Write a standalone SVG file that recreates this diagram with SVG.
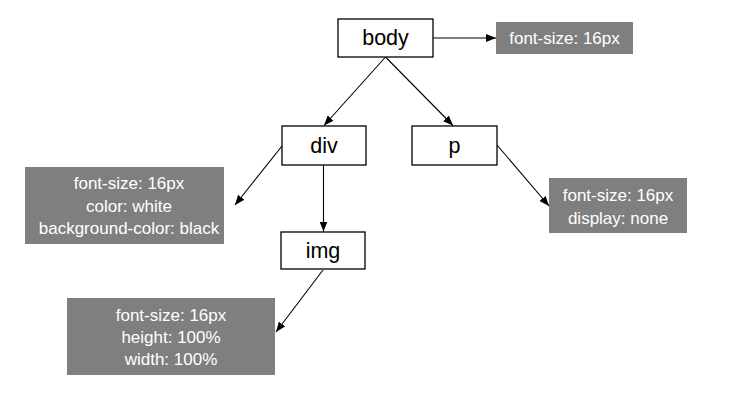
<svg xmlns="http://www.w3.org/2000/svg" width="735" height="401" viewBox="0 0 735 401">
<defs>
<style>
.node rect{fill:#fff;stroke:#000;stroke-width:1.3}
.node text{font-family:"Liberation Sans",Arial,sans-serif;font-size:21.5px;fill:#000;text-anchor:middle}
.note rect{fill:#7f7f7f;stroke:none}
.note text{font-family:"Liberation Sans",Arial,sans-serif;font-size:17px;fill:#fff;text-anchor:middle}
.conn line{stroke:#000;stroke-width:1.1;marker-end:url(#ah)}
</style>
<marker id="ah" markerUnits="userSpaceOnUse" markerWidth="10" markerHeight="8" refX="10" refY="4" orient="auto">
<path d="M0,0 L10,4 L0,8 z" fill="#000"/>
</marker>
</defs>
<rect width="735" height="401" fill="#fff"/>
<g id="connectors" class="conn">
<line x1="433" y1="38" x2="496" y2="38"/>
<line x1="385.5" y1="57" x2="324" y2="125.5"/>
<line x1="385.5" y1="57" x2="453" y2="125.5"/>
<line x1="282" y1="146" x2="235" y2="205"/>
<line x1="323.5" y1="165" x2="323.5" y2="231.5"/>
<line x1="497" y1="145" x2="549" y2="206"/>
<line x1="323" y1="270" x2="276" y2="332"/>
</g>
<g id="body" class="node"><rect x="338" y="19" width="95" height="38"/><text x="385.5" y="45">body</text></g>
<g id="div" class="node"><rect x="282" y="126" width="84" height="39"/><text x="324" y="152.5">div</text></g>
<g id="p" class="node"><rect x="412" y="126" width="85" height="39"/><text x="454.5" y="152.5">p</text></g>
<g id="img" class="node"><rect x="281" y="232" width="84" height="37"/><text x="323" y="257.5">img</text></g>
<g id="note-body" class="note"><rect x="496" y="22" width="137" height="32"/><text x="564.5" y="43.5">font-size: 16px</text></g>
<g id="note-div" class="note"><rect x="25" y="167" width="199" height="77"/>
<text x="129" y="189">font-size: 16px</text><text x="129" y="211.5">color: white</text><text x="129" y="234">background-color: black</text></g>
<g id="note-p" class="note"><rect x="549" y="178" width="138" height="55"/>
<text x="618" y="200.5">font-size: 16px</text><text x="618" y="223.5">display: none</text></g>
<g id="note-img" class="note"><rect x="67" y="298" width="208" height="77"/>
<text x="171" y="320.5">font-size: 16px</text><text x="171" y="343">height: 100%</text><text x="171" y="365">width: 100%</text></g>
</svg>
